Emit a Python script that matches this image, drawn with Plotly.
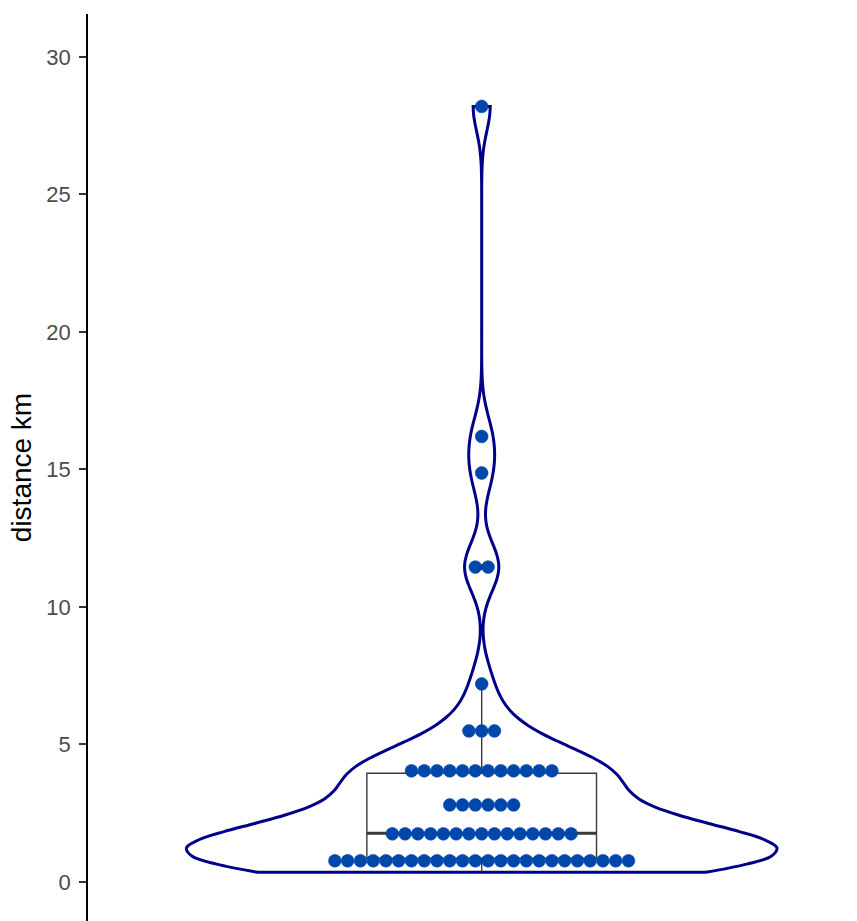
import numpy as np
import plotly.graph_objects as go

# Recorded distances (km), sorted
distance_km = [
    0.35, 0.42, 0.48, 0.52, 0.55, 0.58, 0.61, 0.64, 0.66, 0.69, 0.71, 0.73,
    0.75, 0.77, 0.79, 0.82, 0.86, 0.90, 0.95, 1.00, 1.04, 1.09, 1.14, 1.19,
    1.30, 1.36, 1.42, 1.48, 1.55, 1.60, 1.66, 1.70, 1.74, 1.80, 1.86, 1.93,
    2.00, 2.10, 2.20,
    2.40, 2.55, 2.70, 2.85, 3.00, 3.20,
    3.60, 3.72, 3.80, 3.88, 3.95, 4.00, 4.06, 4.14, 4.22, 4.30, 4.40, 4.48,
    5.10, 5.45, 5.88,
    7.20,
    11.45, 11.45,
    14.87,
    16.20,
    28.20,
]
y_ticks = [0, 5, 10, 15, 20, 25, 30]
y_title = "distance km"

# Figure geometry
W, H = 857, 921
M_L, M_R, M_T, M_B = 88, 0, 14, 0
X_RANGE = [0.4, 1.572]
Y_RANGE = [-1.42, 31.56]
CENTER = 1.0

VIOLIN_LINE = "#00008B"
DOT_COLOR = "#0047AB"
BOX_LINE = "#3a3a3a"

vals = np.sort(np.asarray(distance_km, dtype=float))
n = len(vals)

# Silverman bandwidth (bw.nrd0)
q1, q3 = np.percentile(vals, [25, 75])
bw = 0.9 * min(np.std(vals, ddof=1), (q3 - q1) / 1.34) * n ** (-0.2)

# Dot-density binning along y
binwidth = (vals.max() - vals.min()) / 30
bins = []
binend = -np.inf
for v in vals:
    if v >= binend:
        bins.append([v])
        binend = v + binwidth
    else:
        bins[-1].append(v)

dotsize = 0.5
plot_w = W - M_L - M_R
plot_h = H - M_T - M_B
px_per_y = plot_h / (Y_RANGE[1] - Y_RANGE[0])
px_per_x = plot_w / (X_RANGE[1] - X_RANGE[0])
dot_px = binwidth * dotsize * px_per_y
dot_dx = dot_px / px_per_x

dot_x, dot_y = [], []
for b in bins:
    center = (min(b) + max(b)) / 2
    k = len(b)
    for j in range(k):
        dot_x.append(CENTER + (j - (k - 1) / 2) * dot_dx)
        dot_y.append(center)

median = float(np.median(vals))
box_w = 0.35

fig = go.Figure()

fig.add_trace(go.Violin(
    y=vals, x0=CENTER, width=0.9, scalemode="width", spanmode="hard",
    bandwidth=bw, line=dict(color=VIOLIN_LINE, width=3),
    fillcolor="rgba(0,0,0,0)", points=False, box_visible=False,
    meanline_visible=False, hoverinfo="skip", showlegend=False,
))

fig.add_trace(go.Box(
    y=vals, x0=CENTER, width=box_w, quartilemethod="inclusive",
    whiskerwidth=0,
    line=dict(color=BOX_LINE, width=1.4), fillcolor="rgba(0,0,0,0)",
    boxpoints="outliers", jitter=0, pointpos=0,
    marker=dict(color="black", size=5, line=dict(width=0)),
    showlegend=False, hoverinfo="skip",
))

# Thicker median bar
fig.add_trace(go.Scatter(
    x=[CENTER - box_w / 2, CENTER + box_w / 2], y=[median, median],
    mode="lines", line=dict(color=BOX_LINE, width=2.8),
    showlegend=False, hoverinfo="skip",
))

fig.add_trace(go.Scatter(
    x=dot_x, y=dot_y, mode="markers",
    marker=dict(color=DOT_COLOR, size=dot_px, line=dict(color=DOT_COLOR, width=0.6)),
    showlegend=False, hoverinfo="skip",
))

fig.update_layout(
    width=W, height=H,
    margin=dict(l=M_L, r=M_R, t=M_T, b=M_B, pad=0),
    paper_bgcolor="white", plot_bgcolor="white",
    font=dict(family="Liberation Sans, Arial, sans-serif"),
    violinmode="overlay", boxmode="overlay",
    xaxis=dict(range=X_RANGE, visible=False, fixedrange=True),
    yaxis=dict(
        range=Y_RANGE, tickvals=y_ticks, ticks="outside", ticklen=7,
        tickwidth=1.5, tickcolor="#333333", ticklabelstandoff=4,
        tickfont=dict(size=22, color="#4d4d4d"),
        showline=True, linecolor="black", linewidth=1.8,
        showgrid=False, zeroline=False,
        title=dict(text=y_title, font=dict(size=28, color="black"), standoff=6),
    ),
)

fig.write_html("out.html")
